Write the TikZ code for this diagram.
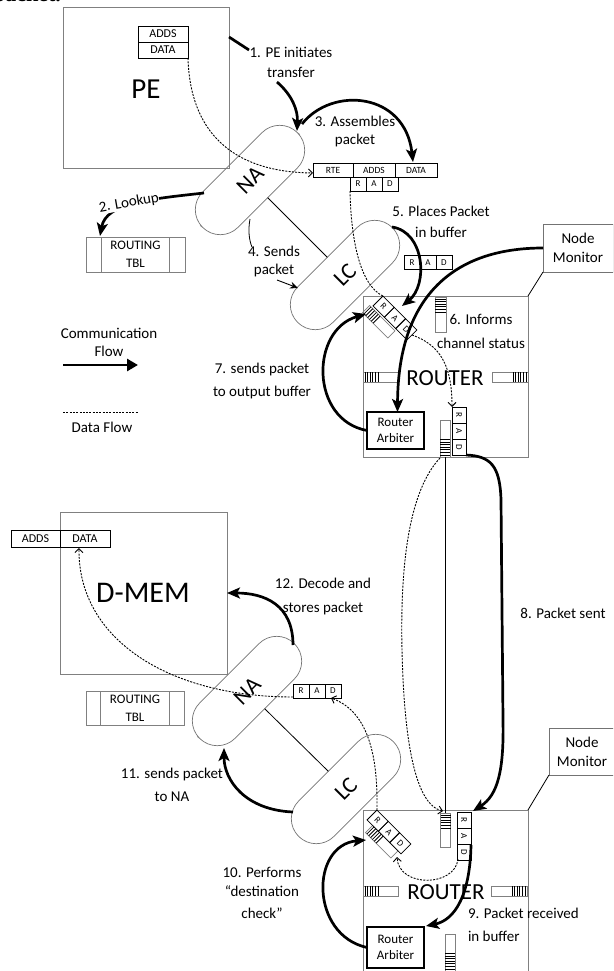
\documentclass[tikz,border=0pt]{standalone}
\usepackage{fontspec}
\setmainfont{Carlito}
\newfontfamily\headfont{Liberation Serif}
\usetikzlibrary{arrows.meta,calc}

\newcommand{\radchain}[4]{%
  \begin{scope}[shift={(#2,#3)},rotate=#4]
    \node[radcell,rotate=#4,anchor=west] (#1r) at (0,0) {R};
    \node[radcell,rotate=#4,anchor=west] (#1a) at (16,0) {A};
    \node[radcell,rotate=#4,anchor=west] (#1d) at (32,0) {D};
  \end{scope}}

\newcommand{\fifo}[6]{%
  \begin{scope}[shift={(#1,#2)},rotate=#3]
    \draw[fifoline] (0,-#5/2) rectangle (#4,#5/2);
    \foreach \k in {1,...,#6} \draw[line width=0.8pt] (\k*2.6-0.6,-#5/2) -- ++(0,#5);
  \end{scope}}

\begin{document}
\begin{tikzpicture}[x=1pt,y=-1pt,
  every node/.style={inner sep=0pt, outer sep=0pt},
  graybox/.style={draw=black!50, line width=0.8pt},
  blkbox/.style={draw=black, line width=0.8pt},
  fifoline/.style={draw=black!50, line width=0.7pt},
  radcell/.style={draw=black, line width=0.8pt, minimum width=16pt, minimum height=14pt, font=\fontsize{9}{9}\selectfont},
  pill/.style={draw=black!55, line width=0.7pt, rounded corners=25pt, minimum width=134pt, minimum height=50pt, rotate=45, font=\fontsize{23}{23}\selectfont},
  comm/.style={line width=2.7pt, -{Stealth[length=13pt,width=11pt,inset=3pt]}},
  commline/.style={line width=2.7pt},
  dataflow/.style={line width=0.9pt, dash pattern=on 2pt off 1.3pt},
  dataarrow/.style={dataflow, -{Straight Barb[length=4pt,width=8pt,line width=0.9pt]}},
  lbl/.style={align=center, font=\fontsize{15}{21}\selectfont},
  arb/.style={draw=black, line width=1.3pt, minimum width=57pt, align=center, font=\fontsize{13}{16}\selectfont, anchor=north west},
  mon/.style={draw=black!55, line width=0.8pt, align=center, font=\fontsize{15}{19}\selectfont, anchor=north west},
]
\useasboundingbox (0,0) rectangle (613,971);
\clip (0,0) rectangle (613,971);

% heading fragment (cut off at the top edge, as in the reference)
\node[font=\headfont\bfseries\fontsize{22}{22}\selectfont, anchor=base east] (hdr) at (61,1.5) {packet.};

% ---------------- top: PE, NA, LC ----------------
\node[graybox, anchor=north west, minimum width=166pt, minimum height=161pt] (pe) at (63,7) {};
\node[font=\fontsize{29}{29}\selectfont] (pelbl) at (146,89) {PE};
\node[blkbox, anchor=north west, minimum width=50pt, minimum height=16pt, font=\fontsize{12}{12}\selectfont] (peadds) at (138,26) {ADDS};
\node[blkbox, anchor=north west, minimum width=50pt, minimum height=16pt, font=\fontsize{12}{12}\selectfont] (pedata) at (138,42) {DATA};

\node[graybox, anchor=north west, minimum width=99pt, minimum height=35pt, align=center, font=\fontsize{13}{18}\selectfont] (rtbl1) at (86,237) {ROUTING\\TBL};
\draw[graybox] ($(rtbl1.north west)+(15,0)$) -- ($(rtbl1.south west)+(15,0)$);
\draw[graybox] ($(rtbl1.north east)+(-16,0)$) -- ($(rtbl1.south east)+(-16,0)$);

\node[pill] (na1) at (250,180) {NA};
\node[pill] (lc1) at (345,275) {LC};
\draw[line width=0.8pt] (na1.south) -- (lc1.north);

% packet
\node[blkbox, anchor=north west, minimum width=40pt, minimum height=14pt, font=\fontsize{9.5}{10}\selectfont] (prte) at (313,163) {RTE};
\node[blkbox, anchor=north west, minimum width=42pt, minimum height=14pt, font=\fontsize{9.5}{10}\selectfont] (padds) at (353,163) {ADDS};
\node[blkbox, anchor=north west, minimum width=42pt, minimum height=14pt, font=\fontsize{9.5}{10}\selectfont] (pdata) at (395,163) {DATA};
\radchain{prad}{350}{184}{0}
\radchain{srad}{404}{262.5}{0}

% ---------------- top router ----------------
\node[graybox, anchor=north west, minimum width=165pt, minimum height=161pt] (rt1) at (363,296) {};
\node[font=\fontsize{23}{23}\selectfont] (rt1lbl) at (445,378) {ROUTER};
\fifo{440.5}{297}{-90}{35}{11}{6}
\fifo{363}{377}{0}{35}{10}{6}
\fifo{528}{377}{180}{36}{10}{6}
\fifo{445}{457}{90}{37}{10}{7}
\fifo{366}{309}{-45}{36}{10}{6}
\radchain{cin1}{378}{301}{-45}
\radchain{cout1}{459}{407}{-90}
\node[arb, minimum height=37pt] (ra1) at (367,412) {Router\\Arbiter};
\node[mon, minimum width=70pt, minimum height=48pt] (nm1) at (543,224) {Node\\Monitor};
\draw[line width=0.8pt] (nm1.south west) -- (rt1.north east);

% ---------------- lower: D-MEM, NA, LC ----------------
\node[graybox, anchor=north west, minimum width=167pt, minimum height=162pt] (dmem) at (60,512) {};
\node[font=\fontsize{30}{30}\selectfont] (dmemlbl) at (143,593) {D-MEM};
\node[blkbox, anchor=north west, minimum width=49pt, minimum height=17pt, font=\fontsize{12}{12}\selectfont] (dadds) at (11,530) {ADDS};
\node[blkbox, anchor=north west, minimum width=50pt, minimum height=17pt, font=\fontsize{12}{12}\selectfont] (ddata) at (60,530) {DATA};

\node[graybox, anchor=north west, minimum width=98pt, minimum height=34pt, align=center, font=\fontsize{13}{18}\selectfont] (rtbl2) at (86,691) {ROUTING\\TBL};
\draw[graybox] ($(rtbl2.north west)+(14,0)$) -- ($(rtbl2.south west)+(14,0)$);
\draw[graybox] ($(rtbl2.north east)+(-15,0)$) -- ($(rtbl2.south east)+(-15,0)$);

\node[pill] (na2) at (247,691) {NA};
\node[pill] (lc2) at (346,789) {LC};
\draw[line width=0.8pt] (na2.south) -- (lc2.north);
\radchain{lrad}{293}{691}{0}

% ---------------- lower router ----------------
\node[graybox, anchor=north west, minimum width=165pt, minimum height=190pt] (rt2) at (363,810) {};
\node[font=\fontsize{23}{23}\selectfont] (rt2lbl) at (446,892) {ROUTER};
\fifo{445.5}{813}{-90}{34}{10}{6}
\fifo{363}{891}{0}{35}{10}{6}
\fifo{527}{891}{180}{36}{10}{6}
\fifo{450}{971}{90}{37}{10}{7}
\fifo{369}{829}{-45}{36}{10}{6}
\radchain{cin2}{372}{815}{-45}
\radchain{cout2}{464}{812}{-90}
\node[arb, minimum height=41pt] (ra2) at (367,927) {Router\\Arbiter};
\node[mon, minimum width=66pt, minimum height=47pt] (nm2) at (549,728) {Node\\Monitor};
\draw[line width=0.8pt] (nm2.south west) -- (rt2.north east);

% ---------------- connectors ----------------
\coordinate (c1a) at (229,37);
\coordinate (c1b) at (249,50);
\draw[commline] (c1a) -- (c1b);
\coordinate (c1c) at (277,82);
\coordinate (na1top) at (297,131);
\draw[comm] (c1c) .. controls (292,95) and (298,110) .. (na1top);

\coordinate (c3a) at (302,124);
\coordinate (c3b) at (413,162);
\draw[comm] (c3a) .. controls (332,86) and (405,92) .. (c3b);

\coordinate (c2a) at (204,193);
\coordinate (c2b) at (100,236);
\draw[comm] (c2a) .. controls (150,199) and (106,203) .. (c2b);

\coordinate (c4a) at (250,219);
\coordinate (c4b) at (252,247);
\draw[line width=0.8pt] (c4a) .. controls (248,230) and (249,240) .. (c4b);
\coordinate (c4c) at (277,280);
\coordinate (lc1left) at (298,288);
\draw[line width=0.9pt, -{Stealth[length=8pt,width=7pt]}] (c4c) -- (lc1left);

\coordinate (c5a) at (392,227);
\coordinate (c5b) at (402,306);
\draw[comm] (c5a) .. controls (425,232) and (428,285) .. (c5b);

\draw[comm] (nm1.west) .. controls (450,248) and (398,300) .. ($(ra1.north)+(2,0)$);

\coordinate (c7b) at (366,314);
\draw[comm] (ra1.west) .. controls (310,420) and (310,330) .. (c7b);

\draw[dataarrow] (pedata.south east) .. controls (190,130) and (230,172) .. ($(prte.west)+(0,3)$);
\draw[dataflow] (pradr.south west) .. controls (351,240) and (360,285) .. (cin1r.north west);
\draw[dataarrow] (cin1d.east) .. controls (440,345) and (452,365) .. (cout1r.south west);

\coordinate (c9s) at (440,458);
\coordinate (c9m) at (402,650);
\coordinate (c9e) at (443,811);
\draw[dataarrow] (c9s) .. controls (410,490) and (400,560) .. (c9m) .. controls (404,740) and (415,805) .. (c9e);

\coordinate (vl1) at (445,457);
\coordinate (vl2) at (445,813);
\draw[line width=0.8pt] (vl1) -- (vl2);

\coordinate (c8m1) at (501,500);
\coordinate (c8m2) at (503,720);
\coordinate (c8e) at (473,811);
\draw[comm] (cout1d.north east) .. controls (490,456) and (500,465) .. (c8m1) -- (c8m2) .. controls (504,770) and (498,795) .. (c8e);

\coordinate (c12a) at (293,645);
\draw[comm] (c12a) .. controls (293,605) and (265,593) .. (dmem.east);

\coordinate (c11a) at (293,812);
\coordinate (c11b) at (224,748);
\draw[comm] (c11a) .. controls (245,810) and (224,780) .. (c11b);

\coordinate (c13a) at (293,697);
\coordinate (c13b) at (79,548);
\draw[dataarrow] (c13a) .. controls (170,697) and (78,640) .. (c13b);

\coordinate (c14b) at (331,698);
\draw[dataarrow] (cin2r.north west) .. controls (378,760) and (370,712) .. (c14b);

\coordinate (c15a) at (471,845);
\coordinate (c15b) at (426,926);
\draw[comm] (c15a) .. controls (470,895) and (455,920) .. (c15b);

\coordinate (c16a) at (458,859);
\coordinate (c16b) at (397,857);
\draw[dataarrow] (c16a) .. controls (455,887) and (399,888) .. (c16b);

\coordinate (c10b) at (366,840);
\draw[comm] (ra2.west) .. controls (310,935) and (310,845) .. (c10b);

% legend
\coordinate (lg1a) at (63,365);
\coordinate (lg1b) at (138,365);
\draw[line width=2.7pt, -{Triangle[length=11pt,width=12pt]}] (lg1a) -- (lg1b);
\coordinate (lg2a) at (63,412);
\coordinate (lg2b) at (138,412);
\draw[dataflow] (lg2a) -- (lg2b);

% ---------------- labels ----------------
\node[lbl, font=\fontsize{15}{20}\selectfont] (l1) at (291,62) {1. PE initiates\\transfer};
\node[lbl, font=\fontsize{15}{18}\selectfont] (l3) at (355,132) {3. Assembles\\packet};
\node[lbl, fill=white, rotate=10] (l2) at (129,203) {2. Lookup};
\node[lbl, font=\fontsize{15}{18}\selectfont] (l4) at (274,261) {4. Sends\\packet};
\node[lbl] (l5) at (441,222) {5. Places Packet\\in buffer};
\node[lbl, font=\fontsize{15}{24}\selectfont] (l6) at (481,331) {6. Informs\\channel status};
\node[lbl, font=\fontsize{15}{23}\selectfont] (l7) at (262,381) {7. sends packet\\to output buffer};
\node[lbl, font=\fontsize{15}{18}\selectfont] (leg1) at (109,342) {Communication\\Flow};
\node[lbl] (leg2) at (102,427) {Data Flow};
\node[lbl] (l8) at (563,613) {8. Packet sent};
\node[lbl, font=\fontsize{15}{24}\selectfont] (l12) at (323,596) {12. Decode and\\stores packet};
\node[lbl, font=\fontsize{15}{23}\selectfont] (l11) at (172,785) {11. sends packet\\to NA};
\node[lbl, font=\fontsize{15}{19}\selectfont] (l10) at (262,893) {10. Performs\\“destination\\[3pt]check”};
\node[lbl, align=left, anchor=west, font=\fontsize{15}{23}\selectfont] (l9) at (468,925) {9. Packet received\\in buffer};
\end{tikzpicture}
\end{document}
